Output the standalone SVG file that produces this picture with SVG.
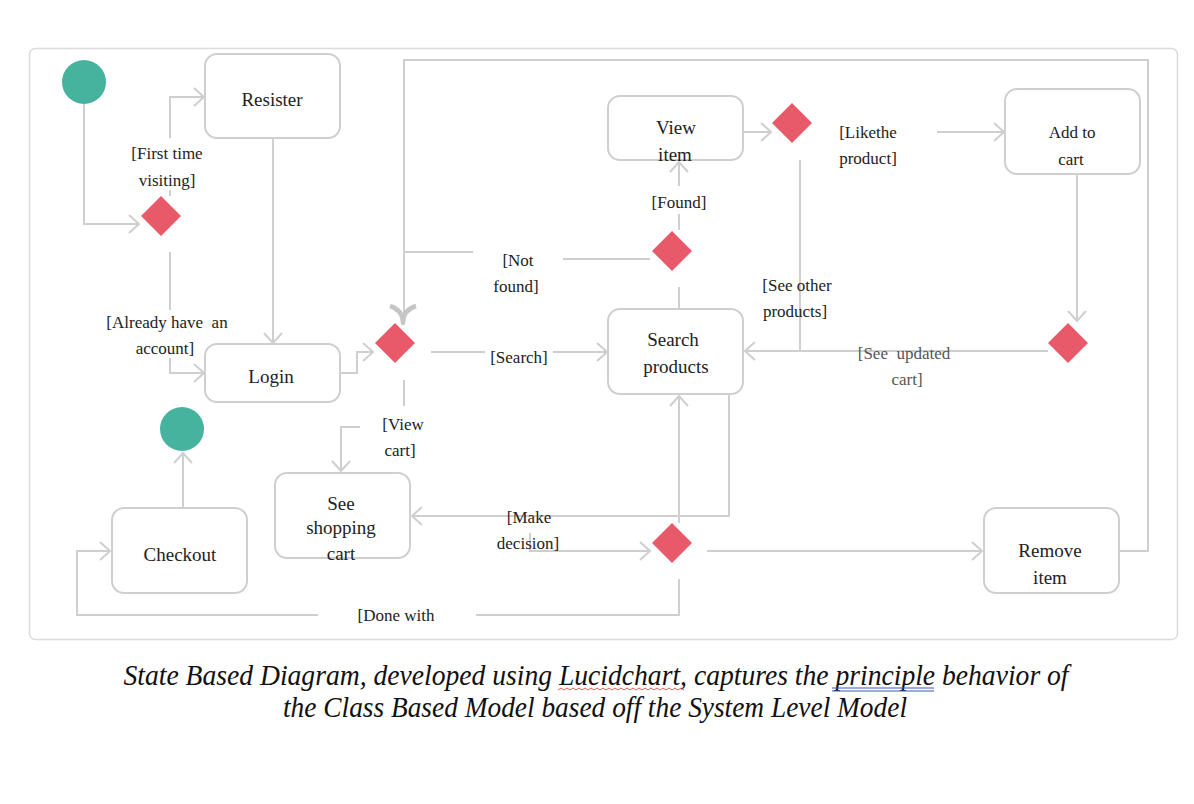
<svg xmlns="http://www.w3.org/2000/svg" width="1194" height="804" viewBox="0 0 1194 804">
<defs>
<style>
.frame{fill:#fff;stroke:#dcdcdc;stroke-width:1.5}
.box{fill:#fff;stroke:#cfcfcf;stroke-width:2}
.dia{fill:#e85a69}
.term{fill:#45b39d}
.ln{fill:none;stroke:#cfcfcf;stroke-width:2}
.t{font-family:"Liberation Serif","Times New Roman",serif;font-size:17px;fill:#222;text-anchor:middle}
.n{font-size:19px}
.g{fill:#555}
.cap{font-family:"Liberation Serif","Times New Roman",serif;font-style:italic;font-size:29px;fill:#111;text-anchor:middle}
</style>
<marker id="arr" markerUnits="userSpaceOnUse" markerWidth="16" markerHeight="20" refX="11" refY="10" orient="auto">
<path d="M1,1 L11,10 L1,19" fill="none" stroke="#cfcfcf" stroke-width="2"/>
</marker>
</defs>
<rect width="1194" height="804" fill="#fff"/>
<rect class="frame" x="29.5" y="48.5" width="1148" height="591" rx="6"/>

<g id="connectors">
<path class="ln" d="M84,104 V224 H139" marker-end="url(#arr)"/>
<path class="ln" d="M170,196 V190"/>
<path class="ln" d="M170,138 V97 H204" marker-end="url(#arr)"/>
<path class="ln" d="M170,252 V310"/>
<path class="ln" d="M170,358 V373 H204" marker-end="url(#arr)"/>
<path class="ln" d="M273,139 V343" marker-end="url(#arr)"/>
<path class="ln" d="M341,373 H357 V352 H373" marker-end="url(#arr)"/>
<path class="ln" d="M431,352 H485"/>
<path class="ln" d="M553,352 H607" marker-end="url(#arr)"/>
<path class="ln" d="M404,380 V406"/>
<path class="ln" d="M360,427 H341 V471" marker-end="url(#arr)"/>
<path class="ln" d="M679,309 V287"/>
<path class="ln" d="M679,230 V214"/>
<path class="ln" d="M679,186 V162" marker-end="url(#arr)"/>
<path class="ln" d="M650,259 H563"/>
<path class="ln" d="M473,252 H404"/>
<path class="ln" d="M744,132 H771" marker-end="url(#arr)"/>
<path class="ln" d="M937,132 H1004" marker-end="url(#arr)"/>
<path class="ln" d="M800,160 V351"/>
<path class="ln" d="M1077,175 V321" marker-end="url(#arr)"/>
<path class="ln" d="M1048,351 H745" marker-end="url(#arr)"/>
<path class="ln" d="M729,395 V516 H412" marker-end="url(#arr)"/>
<path class="ln" d="M530,533 V551 H650" marker-end="url(#arr)"/>
<path class="ln" d="M679,523 V396" marker-end="url(#arr)"/>
<path class="ln" d="M707,551 H982" marker-end="url(#arr)"/>
<path class="ln" d="M1120,551 H1148 V60 H404 V314"/>
<path d="M390,306 Q403,310 403,323 Q403,310 416,306" fill="none" stroke="#c6c6c6" stroke-width="4.5" stroke-linejoin="round"/>
<path class="ln" d="M679,579 V615 H476"/>
<path class="ln" d="M318,615 H77 V551 H110" marker-end="url(#arr)"/>
<path class="ln" d="M183,508 V453" marker-end="url(#arr)"/>
</g>

<g id="start"><circle class="term" cx="84" cy="82" r="22"/></g>
<g id="end"><circle class="term" cx="182" cy="429" r="22"/></g>

<g id="d1"><path class="dia" d="M161,196 L181,216 L161,236 L141,216 Z"/></g>
<g id="d2"><path class="dia" d="M395,323 L415,343 L395,363 L375,343 Z"/></g>
<g id="d3"><path class="dia" d="M672,231 L692,251 L672,271 L652,251 Z"/></g>
<g id="d4"><path class="dia" d="M792,103 L812,123 L792,143 L772,123 Z"/></g>
<g id="d5"><path class="dia" d="M1068,323 L1088,343 L1068,363 L1048,343 Z"/></g>
<g id="d6"><path class="dia" d="M672,523 L692,543 L672,563 L652,543 Z"/></g>

<g id="register"><rect class="box" x="205" y="54" width="135" height="84" rx="12"/><text class="t n" x="272" y="106">Resister</text></g>
<g id="login"><rect class="box" x="205" y="344" width="135" height="58" rx="12"/><text class="t n" x="271" y="383">Login</text></g>
<g id="view-item"><rect class="box" x="608" y="96" width="135" height="64" rx="12"/><text class="t n" x="676" y="134">View</text><text class="t n" x="675" y="161">item</text></g>
<g id="add-to-cart"><rect class="box" x="1005" y="89" width="135" height="85" rx="12"/><text class="t" x="1072" y="138">Add to</text><text class="t" x="1071" y="165">cart</text></g>
<g id="search"><rect class="box" x="608" y="309" width="135" height="85" rx="12"/><text class="t n" x="673" y="346">Search</text><text class="t n" x="676" y="373">products</text></g>
<g id="shopping-cart"><rect class="box" x="275" y="473" width="135" height="85" rx="12"/><text class="t n" x="341" y="510">See</text><text class="t n" x="341" y="534">shopping</text><text class="t n" x="341" y="560">cart</text></g>
<g id="checkout"><rect class="box" x="112" y="508" width="135" height="85" rx="12"/><text class="t n" x="180" y="561">Checkout</text></g>
<g id="remove-item"><rect class="box" x="984" y="508" width="135" height="85" rx="12"/><text class="t n" x="1050" y="557">Remove</text><text class="t n" x="1050" y="584">item</text></g>

<g id="labels">
<text class="t" x="167" y="159">[First time</text>
<text class="t" x="167" y="186">visiting]</text>
<text class="t" x="167" y="328">[Already have&#160; an</text>
<text class="t" x="165" y="354">account]</text>
<text class="t" x="519" y="363">[Search]</text>
<text class="t" x="403" y="430">[View</text>
<text class="t" x="400" y="456">cart]</text>
<text class="t" x="518" y="266">[Not</text>
<text class="t" x="516" y="292">found]</text>
<text class="t" x="679" y="208">[Found]</text>
<text class="t" x="868" y="138">[Likethe</text>
<text class="t" x="868" y="164">product]</text>
<text class="t" x="797" y="291">[See other</text>
<text class="t" x="795" y="317">products]</text>
<text class="t g" x="904" y="359">[See&#160; updated</text>
<text class="t g" x="907" y="385">cart]</text>
<text class="t" x="529" y="523">[Make</text>
<text class="t" x="528" y="549">decision]</text>
<text class="t" x="396" y="621">[Done with</text>
</g>

<g id="caption">
<text class="cap" x="596" y="685" textLength="945" lengthAdjust="spacingAndGlyphs">State Based Diagram, developed using Lucidchart, captures the principle behavior of</text>
<text class="cap" x="595" y="717" textLength="624" lengthAdjust="spacingAndGlyphs">the Class Based Model based off the System Level Model</text>
<path d="M558,690 l3,-2 l3,2 l3,-2 l3,2 l3,-2 l3,2 l3,-2 l3,2 l3,-2 l3,2 l3,-2 l3,2 l3,-2 l3,2 l3,-2 l3,2 l3,-2 l3,2 l3,-2 l3,2 l3,-2 l3,2 l3,-2 l3,2 l3,-2 l3,2 l3,-2 l3,2 l3,-2 l3,2 l3,-2 l3,2 l3,-2 l3,2 l3,-2 l3,2 l3,-2 l3,2 l3,-2 l3,2 l3,-2 l3,2" fill="none" stroke="#d33" stroke-width="0.8"/>
<path d="M832,688 H934 M832,691 H934" stroke="#3b5bb5" stroke-width="1"/>
</g>
</svg>
